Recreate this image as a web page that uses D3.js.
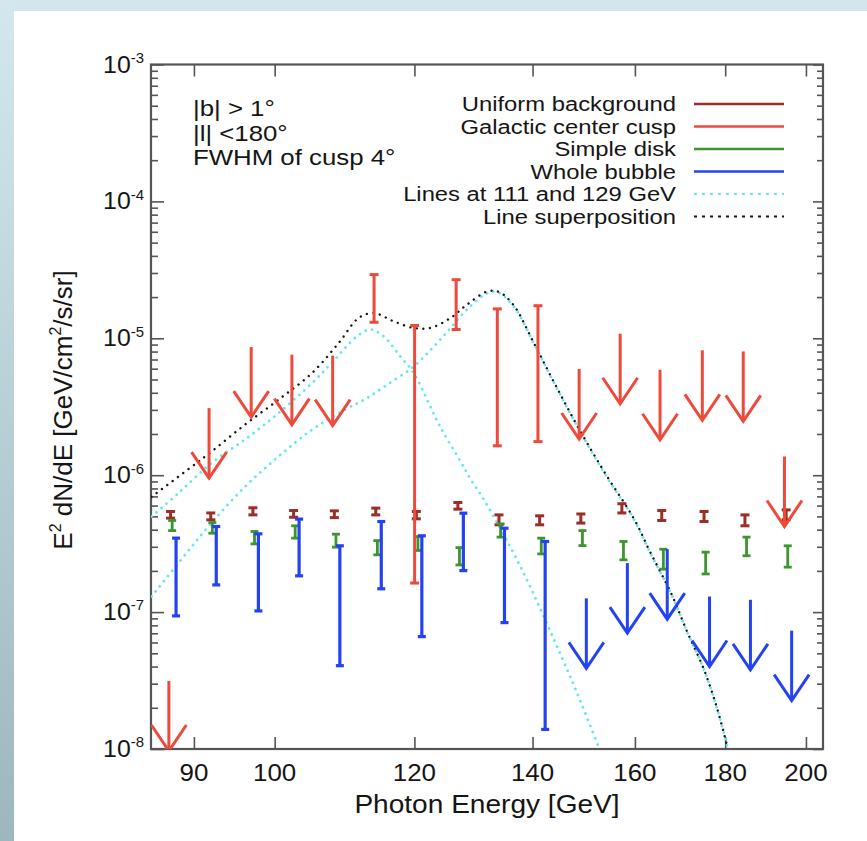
<!DOCTYPE html>
<html><head><meta charset="utf-8">
<script src="https://cdn.jsdelivr.net/npm/d3@7"></script>
<style>
body{margin:0;background:#fff;}
svg{display:block;font-family:"Liberation Sans",Arial,Helvetica,sans-serif;}
</style>
</head><body>
<svg id="c" width="867" height="841"></svg>
<script>
// ---------------- DATA ----------------
const energy = [87.3, 92.0, 97.2, 102.5, 108.1, 114.1, 120.3, 127.0, 134.0, 141.3, 149.1, 157.3, 165.7, 175.1, 184.7, 194.9];

// Uniform background (error bars)
const bgLo = [4.86e-7, 4.72e-7, 5.13e-7, 4.93e-7, 4.90e-7, 5.13e-7, 4.80e-7, 5.65e-7, 4.34e-7, 4.34e-7, 4.47e-7, 5.30e-7, 4.67e-7, 4.59e-7, 4.27e-7, 4.72e-7];
const bgHi = [5.43e-7, 5.30e-7, 5.78e-7, 5.52e-7, 5.49e-7, 5.75e-7, 5.43e-7, 6.32e-7, 5.13e-7, 5.05e-7, 5.21e-7, 6.19e-7, 5.52e-7, 5.43e-7, 5.13e-7, 5.58e-7];

// Simple disk (error bars)
const diskLo = [3.94e-7, 3.77e-7, 3.15e-7, 3.47e-7, 2.98e-7, 2.62e-7, 2.82e-7, 2.21e-7, 3.53e-7, 2.66e-7, 3.06e-7, 2.41e-7, 2.06e-7, 1.90e-7, 2.58e-7, 2.13e-7];
const diskHi = [4.67e-7, 4.51e-7, 3.88e-7, 4.27e-7, 3.71e-7, 3.33e-7, 3.56e-7, 2.96e-7, 4.41e-7, 3.47e-7, 3.94e-7, 3.28e-7, 2.88e-7, 2.74e-7, 3.53e-7, 3.05e-7];

// Galactic center cusp (error bars + upper limits)
const cuspLo = [null, null, null, null, null, 1.31e-5, 1.63e-7, 1.16e-5, 1.64e-6, 1.76e-6, null, null, null, null, null, null];
const cuspHi = [null, null, null, null, null, 2.92e-5, 1.24e-5, 2.68e-5, 1.64e-5, 1.73e-5, null, null, null, null, null, null];
const cuspUL = [3.14e-8, 3.09e-6, 8.63e-6, 7.59e-6, 7.47e-6, null, null, null, null, null, 5.97e-6, 1.08e-5, 5.89e-6, 8.17e-6, 8.02e-6, 1.37e-6];

// Whole bubble (error bars + upper limits)
const bubbleLo = [9.38e-8, 1.58e-7, 1.02e-7, 1.84e-7, 4.06e-8, 1.48e-7, 6.62e-8, 2.01e-7, 8.38e-8, 1.39e-8, null, null, null, null, null, null];
const bubbleHi = [3.47e-7, 4.22e-7, 3.73e-7, 4.78e-7, 3.05e-7, 4.59e-7, 3.61e-7, 5.28e-7, 4.10e-7, 3.28e-7, null, null, null, null, null, null];
const bubbleUL = [null, null, null, null, null, null, null, null, null, null, 1.26e-7, 2.28e-7, 2.88e-7, 1.30e-7, 1.23e-7, 7.32e-8];

// Line at 111 GeV (cyan dotted)
const line111E = [85.15, 88.2, 92.1, 96.2, 100.5, 105.0, 107.7, 111.3, 113.3, 115.3, 117.8, 119.9, 122.0, 124.1, 127.4, 129.1, 131.4, 137.8, 144.0, 148.4, 152.7];
const line111V = [4.99e-7, 7.40e-7, 1.23e-6, 1.82e-6, 2.84e-6, 4.71e-6, 6.60e-6, 1.03e-5, 1.16e-5, 1.03e-5, 7.38e-6, 5.58e-6, 3.56e-6, 2.26e-6, 1.27e-6, 9.4e-7, 6.61e-7, 2.15e-7, 6.26e-8, 2.55e-8, 1.01e-8];

// Line at 129 GeV (cyan dotted)
const line129E = [85.15, 88.6, 92.1, 96.2, 100.5, 105.0, 109.6, 112.8, 115.8, 119.9, 123.1, 125.8, 128.5, 132.0, 133.7, 136.6, 140.2, 144.0, 148.6, 154.0, 159.8, 163.3, 167.7, 171.4, 175.1, 178.2, 180.6];
const line129V = [1.30e-7, 2.45e-7, 4.49e-7, 8.23e-7, 1.37e-6, 2.15e-6, 3.01e-6, 3.66e-6, 4.58e-6, 6.23e-6, 8.73e-6, 1.19e-5, 1.62e-5, 2.14e-5, 2.17e-5, 1.71e-5, 9.24e-6, 4.71e-6, 2.21e-6, 1.00e-6, 4.75e-7, 2.68e-7, 1.37e-7, 7.01e-8, 3.78e-8, 1.93e-8, 1.01e-8];

// Line superposition (black dotted)
const superE = [85.15, 89.3, 92.1, 96.2, 100.5, 105.0, 108.7, 111.6, 113.8, 116.8, 119.9, 122.5, 125.8, 128.5, 132.0, 134.0, 136.6, 140.2, 144.0, 148.6, 154.0, 159.8, 163.3, 167.7, 171.4, 175.1, 178.2, 180.6];
const superV = [6.95e-7, 1.10e-6, 1.49e-6, 2.34e-6, 3.56e-6, 5.58e-6, 9.24e-6, 1.41e-5, 1.53e-5, 1.33e-5, 1.19e-5, 1.19e-5, 1.41e-5, 1.76e-5, 2.20e-5, 2.18e-5, 1.74e-5, 9.3e-6, 4.75e-6, 2.23e-6, 1.02e-6, 4.80e-7, 2.71e-7, 1.38e-7, 7.05e-8, 3.8e-8, 1.94e-8, 1.01e-8];

// Axes
const xTicks = [90, 100, 120, 140, 160, 180, 200];
const yExponents = [-8, -7, -6, -5, -4, -3];
const xDomain = [85.1, 204.5];
const yDomain = [1e-8, 1e-3];

// Texts
const legendLabels = ["Uniform background", "Galactic center cusp", "Simple disk", "Whole bubble", "Lines at 111 and 129 GeV", "Line superposition"];
const noteLines = ["|b| > 1°", "|l| <180°", "FWHM of cusp 4°"];
const xTitle = "Photon Energy [GeV]";

// ---------------- STYLE / LAYOUT ----------------
const C = {bg:"#9c2e27", cusp:"#ee4a3b", disk:"#3c962d", bubble:"#2343f2", cyan:"#66e6ee", black:"#151515", axis:"#555", text:"#151515"};
const M = {l:151, r:823, t:64.5, b:749};
const S = 1.08; // slight horizontal stretch of the reference's lettering

const svg = d3.select("#c");
const defs = svg.append("defs");

// page background: light bluish border strips
const lg = defs.append("linearGradient").attr("id","edge").attr("x1",0).attr("y1",0).attr("x2",0).attr("y2",1);
lg.append("stop").attr("offset","0%").attr("stop-color","#d4e7ee");
lg.append("stop").attr("offset","100%").attr("stop-color","#9db7bf");
svg.append("rect").attr("x",0).attr("y",0).attr("width",867).attr("height",841).attr("fill","#fff");
svg.append("rect").attr("x",0).attr("y",0).attr("width",867).attr("height",11).attr("fill","#d3e6ed");
svg.append("rect").attr("x",0).attr("y",0).attr("width",14).attr("height",841).attr("fill","url(#edge)");

defs.append("clipPath").attr("id","plotclip").append("rect")
  .attr("x",M.l).attr("y",M.t).attr("width",M.r-M.l).attr("height",M.b-M.t);

const x = d3.scaleLog().domain(xDomain).range([M.l, M.r]);
const y = d3.scaleLog().domain(yDomain).range([M.b, M.t]);

function stext(g, px, py, parts, size, anchor, sx) {
  const t = g.append("text")
    .attr("transform", `translate(${px},${py}) scale(${sx||S},1)`)
    .attr("font-size", size).attr("text-anchor", anchor || "start").attr("fill", C.text);
  let raised = false;
  parts.forEach(p => {
    const sup = Array.isArray(p) && p[1];
    const str = Array.isArray(p) ? p[0] : p;
    const ts = t.append("tspan").text(str);
    if (sup) { ts.attr("font-size", size*0.6).attr("dy", -size*0.42); raised = true; }
    else if (raised) { ts.attr("dy", size*0.42); raised = false; }
  });
  return t;
}

// ---------------- AXES (ticks inward) ----------------
function styleAxis(sel) {
  sel.select(".domain").remove();
  sel.selectAll(".tick line").attr("stroke", C.axis).attr("stroke-width", 1.6);
  sel.selectAll(".tick text").remove();
}
const yMajor = yExponents.map(e => Math.pow(10, e));
const yMinor = [];
yExponents.slice(0, -1).forEach(e => { for (let m = 2; m <= 9; m++) yMinor.push(m * Math.pow(10, e)); });

svg.append("g").attr("transform",`translate(0,${M.b})`).call(d3.axisBottom(x).tickValues(xTicks).tickSize(-12).tickSizeOuter(0)).call(styleAxis);
svg.append("g").attr("transform",`translate(0,${M.t})`).call(d3.axisTop(x).tickValues(xTicks).tickSize(-12).tickSizeOuter(0)).call(styleAxis);
svg.append("g").attr("transform",`translate(${M.l},0)`).call(d3.axisLeft(y).tickValues(yMajor).tickSize(-13).tickSizeOuter(0)).call(styleAxis);
svg.append("g").attr("transform",`translate(${M.l},0)`).call(d3.axisLeft(y).tickValues(yMinor).tickSize(-7).tickSizeOuter(0)).call(styleAxis);
svg.append("g").attr("transform",`translate(${M.r},0)`).call(d3.axisRight(y).tickValues(yMajor).tickSize(-10).tickSizeOuter(0)).call(styleAxis);
svg.append("g").attr("transform",`translate(${M.r},0)`).call(d3.axisRight(y).tickValues(yMinor).tickSize(-6).tickSizeOuter(0)).call(styleAxis);

svg.append("rect").attr("x",M.l).attr("y",M.t).attr("width",M.r-M.l).attr("height",M.b-M.t)
  .attr("fill","none").attr("stroke",C.axis).attr("stroke-width",2.2);

// tick labels
const lab = svg.append("g");
xTicks.forEach(v => stext(lab, x(v), 781, [String(v)], 24, "middle"));
yExponents.forEach(e => stext(lab, 144, y(Math.pow(10,e)) + 8, ["10", [String(e), true]], 23, "end"));

// axis titles
stext(lab, (M.l+M.r)/2, 813, [xTitle], 26, "middle");
svg.append("text").attr("transform","translate(72,410) rotate(-90)")
  .attr("font-size",26).attr("text-anchor","middle").attr("fill",C.text)
  .call(t => {
    t.append("tspan").text("E");
    t.append("tspan").text("2").attr("font-size",16).attr("dy",-11);
    t.append("tspan").text(" dN/dE [GeV/cm").attr("dy",11);
    t.append("tspan").text("2").attr("font-size",16).attr("dy",-11);
    t.append("tspan").text("/s/sr]").attr("dy",11);
  });

// ---------------- PLOT CONTENT ----------------
const plot = svg.append("g").attr("clip-path","url(#plotclip)");

const lineGen = d3.line().x(d => x(d[0])).y(d => y(d[1])).curve(d3.curveCatmullRom.alpha(0.5));
function dotted(E, V, color, w) {
  plot.append("path").datum(E.map((e,i)=>[e, V[i]])).attr("d", lineGen)
    .attr("fill","none").attr("stroke",color).attr("stroke-width",w)
    .attr("stroke-linecap","round").attr("stroke-dasharray","0.01 6.6");
}
dotted(line111E, line111V, C.cyan, 2.8);
dotted(line129E, line129V, C.cyan, 2.8);
dotted(superE, superV, C.black, 2.4);

function errorBars(lo, hi, color, dx, cap, w) {
  const g = plot.append("g").attr("stroke", color).attr("stroke-width", w).attr("fill","none");
  energy.forEach((e, i) => {
    if (lo[i] == null || hi[i] == null) return;
    const cx = x(e) + dx;
    g.append("line").attr("x1",cx).attr("x2",cx).attr("y1",y(lo[i])).attr("y2",y(hi[i]));
    [lo[i], hi[i]].forEach(v => g.append("line").attr("x1",cx-cap/2).attr("x2",cx+cap/2).attr("y1",y(v)).attr("y2",y(v)));
  });
}
const ARROW_LEN = 70, HEAD_W = 17.5, HEAD_L = 26;
function upperLimits(ul, color, dx, w) {
  const g = plot.append("g").attr("stroke", color).attr("stroke-width", w).attr("fill","none");
  energy.forEach((e, i) => {
    if (ul[i] == null) return;
    const cx = x(e) + dx, top = y(ul[i]), tip = top + ARROW_LEN;
    g.append("line").attr("x1",cx).attr("x2",cx).attr("y1",top).attr("y2",tip);
    g.append("path").attr("d",`M${cx-HEAD_W},${tip-HEAD_L}L${cx},${tip}L${cx+HEAD_W},${tip-HEAD_L}`);
  });
}
errorBars(bgLo, bgHi, C.bg, 0, 9, 3);
errorBars(diskLo, diskHi, C.disk, 1.6, 8, 2.8);
errorBars(bubbleLo, bubbleHi, C.bubble, 5.5, 8, 3.2);
upperLimits(bubbleUL, C.bubble, 5.5, 3);
errorBars(cuspLo, cuspHi, C.cusp, -1.7, 9, 3);
upperLimits(cuspUL, C.cusp, -1.7, 3);

// ---------------- ANNOTATION ----------------
const note = svg.append("g");
noteLines.forEach((s, i) => stext(note, 193, 116 + i*24.5, [s], 21.5, "start", 1.2));

// ---------------- LEGEND ----------------
const leg = svg.append("g");
const legStyle = [
  {c:C.bg}, {c:C.cusp}, {c:C.disk}, {c:C.bubble}, {c:C.cyan, dot:true}, {c:C.black, dot:true}
];
legendLabels.forEach((s, i) => {
  const ry = 104 + i*22.5;
  stext(leg, 676, ry + 7, [s], 20, "end", 1.19);
  const l = leg.append("line").attr("x1",694).attr("x2",784).attr("y1",ry).attr("y2",ry)
    .attr("stroke",legStyle[i].c).attr("stroke-width",2.6);
  if (legStyle[i].dot) l.attr("stroke-dasharray","3 5").attr("stroke-width",2.2);
});
</script>
</body></html>
